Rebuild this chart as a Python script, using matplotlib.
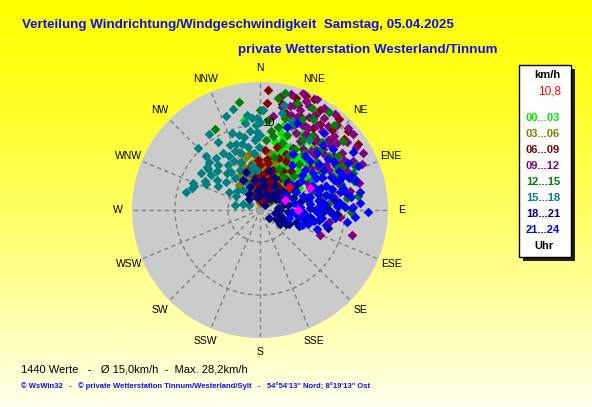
import matplotlib
matplotlib.use("Agg")
import matplotlib.pyplot as plt
import numpy as np
from matplotlib.patches import Rectangle

plt.rcParams['font.family'] = ['Liberation Sans', 'DejaVu Sans']

# Windrichtung (Grad) und Radius (Skala 0..128, Ring "10" bei 85) je Zeitfenster
dir_00 = [350, 5, 10, 12, 15, 18, 20, 22, 25, 28, 30, 32, 35, 38, 40, 42, 45, 48, 50, 52,
          55, 36, 42, 51, 60, 65, 70, 25, 15, 8, 30, 20, 40, 58, 62, 75, 80, 45, 28, 33,
          14, 24, 34, 44, 18, 28, 38, 48, 22, 32, 42, 12, 26, 36, 46, 56, 16, 30, 40, 20]
r_00 = [91, 60, 50, 70, 80, 63, 45, 55, 70, 85, 40, 60, 75, 50, 65, 30, 55, 42, 70, 35,
        50, 22, 30, 13, 45, 40, 35, 30, 35, 40, 90, 95, 82, 62, 28, 30, 22, 20, 50, 35,
        58, 62, 48, 68, 75, 38, 58, 52, 42, 78, 45, 48, 55, 65, 35, 58, 88, 50, 40, 68]

dir_03 = [340, 345, 350, 355, 0, 5, 10, 15, 20, 25, 352, 348, 342, 336, 330, 325, 358, 8,
          30, 35, 18, 2, 12, 345, 335, 320, 28, 40, 355, 10, 3, 350, 340, 15, 22, 0,
          345, 355, 5, 15, 0, 350, 338, 10, 20, 25, 358, 348]
r_03 = [62, 55, 48, 42, 38, 45, 35, 28, 40, 22, 30, 22, 35, 28, 40, 20, 15, 18,
        32, 15, 50, 25, 10, 12, 18, 33, 45, 25, 55, 58, 32, 36, 45, 42, 30, 7,
        40, 33, 20, 20, 50, 58, 50, 28, 25, 35, 28, 28]

dir_06 = [0, 5, 10, 15, 20, 25, 30, 35, 40, 45, 50, 355, 350, 345, 340, 0, 8, 18, 28, 38,
          12, 2, 22, 32, 55, 60, 348, 352, 5, 15, 25,
          3, 8, 13, 18, 23, 28, 33, 38, 43, 48, 353, 358, 10, 20, 30, 0, 6, 16,
          4, 4, 26, 30, 31, 56, 41, 61, 20, 35, 45, 15, 38, 28, 50, 10, 22,
          18, 24, 33, 12, 42, 48]
r_06 = [20, 30, 40, 25, 35, 45, 30, 20, 40, 28, 15, 25, 35, 18, 28, 45, 52, 15, 55, 50,
        12, 10, 22, 12, 35, 25, 45, 12, 60, 65, 62,
        35, 22, 30, 42, 28, 20, 38, 30, 18, 38, 40, 50, 48, 55, 45, 30, 15, 8,
        120, 107, 124, 110, 117, 118, 120, 94, 112, 105, 100, 100, 88, 95, 110, 115, 123,
        118, 102, 98, 108, 108, 118]

dir_09 = [15, 18, 20, 22, 25, 28, 30, 32, 35, 38, 40, 42, 45, 48, 50, 52, 55, 58, 60, 62,
          65, 20, 25, 30, 35, 40, 45, 50, 15, 12, 10, 8, 28, 33, 43, 53, 57, 63, 68, 71,
          75, 88, 113, 105, 80, 85, 95, 100, 70, 75, 60, 66, 38, 27, 47,
          18, 22, 26, 30, 34, 36, 44, 46, 54, 56, 64, 23, 31, 39, 49, 59, 67, 72, 78, 41,
          51, 61, 16]
r_09 = [120, 110, 125, 100, 115, 105, 95, 120, 112, 100, 90, 115, 105, 95, 85, 110, 100, 90, 80, 105,
        95, 90, 85, 80, 75, 70, 78, 65, 95, 105, 115, 95, 70, 88, 82, 72, 115, 70, 85, 82,
        103, 93, 65, 95, 75, 60, 80, 70, 60, 50, 55, 112, 122, 125, 120,
        100, 108, 95, 110, 102, 92, 98, 88, 92, 80, 88, 118, 88, 108, 102, 98, 92, 100, 92, 78,
        120, 118, 108]

dir_12 = [331, 349, 9, 19, 27, 41, 50, 82, 91, 73, 82, 5, 10, 15, 20, 25, 30, 35, 40, 45,
          50, 55, 60, 65, 70, 75, 80, 85, 15, 25, 35, 45, 55, 60, 68, 100, 95, 5, 0, 12, 35, 30,
          12, 22, 32, 42, 52, 62, 72, 78, 88, 28, 38, 48, 58, 18, 8, 65]
r_12 = [93, 110, 113, 113, 115, 113, 108, 99, 91, 98, 88, 90, 75, 95, 80, 100, 70, 90, 60, 85,
        75, 95, 65, 80, 55, 75, 50, 68, 55, 45, 40, 48, 38, 88, 100, 60, 45, 70, 100, 120, 120, 105,
        85, 92, 82, 92, 88, 95, 85, 65, 78, 62, 72, 62, 72, 70, 80, 105]

dir_15 = [355, 357, 358, 356, 359, 354, 352, 350, 348, 345, 342, 340, 338, 335, 333, 330, 328, 325,
          322, 320, 318, 315, 312, 310, 308, 305, 302, 300, 296, 292, 288, 284, 281, 289, 294, 300,
          310, 320, 335, 345, 350, 355, 13, 13, 20, 35, 60, 70, 315, 326, 340, 345, 290, 309,
          0, 358, 357, 353, 349, 344, 337, 332, 327, 323, 317, 313, 306, 300, 298, 340, 0, 2]
r_15 = [92, 85, 78, 70, 63, 57, 96, 88, 75, 68, 60, 82, 52, 72, 45, 62, 80, 55,
        40, 68, 50, 76, 58, 44, 66, 52, 70, 36, 60, 72, 71, 76, 25, 18, 12, 28,
        30, 26, 30, 38, 45, 40, 108, 100, 95, 85, 60, 70, 88, 92, 100, 105, 70, 68,
        88, 92, 72, 80, 64, 78, 64, 55, 68, 48, 62, 70, 60, 48, 62, 70, 75, 100]

dir_18 = [336, 347, 45, 330, 340, 350, 355, 0, 10, 20, 30, 40, 50, 60, 70, 80, 90, 100, 110, 120,
          85, 75, 65, 95, 103, 101, 93, 89, 90, 93, 98, 108, 115, 80, 70, 55, 45, 25, 15, 5,
          325, 315, 130, 105, 85,
          95, 105, 85, 75, 65, 55, 45, 35, 112, 118, 97, 88, 78, 60, 125, 100, 92, 82]
r_18 = [25, 13, 7, 35, 40, 30, 20, 15, 25, 18, 28, 20, 30, 22, 35, 28, 20, 15, 25, 18,
        40, 48, 55, 35, 46, 54, 62, 68, 57, 77, 50, 38, 32, 60, 65, 45, 38, 35, 40, 30,
        20, 15, 12, 70, 80,
        28, 22, 18, 25, 30, 20, 25, 15, 42, 30, 42, 50, 42, 40, 25, 60, 72, 75]

dir_21 = [66, 70, 75, 87, 91, 94, 18, 23, 40, 45, 48, 50, 52, 55, 57, 60, 62, 63, 65, 67,
          68, 70, 72, 73, 75, 77, 78, 80, 82, 83, 85, 86, 88, 90, 92, 95, 97, 100, 102, 98,
          105, 110, 60, 50, 35, 30, 40, 58, 80,
          62, 64, 66, 68, 69, 71, 74, 76, 79, 81, 84, 87, 89, 91, 93, 96, 99, 103, 106, 58,
          55, 53, 50, 46, 44, 70, 77, 86, 94, 108]
r_21 = [107, 95, 86, 77, 108, 32, 87, 95, 70, 80, 60, 95, 75, 50, 88, 65, 100, 40, 78, 55,
        90, 70, 45, 100, 60, 82, 35, 72, 92, 50, 65, 40, 85, 55, 70, 45, 62, 40, 55, 88,
        30, 45, 30, 40, 55, 65, 100, 110, 102,
        70, 88, 58, 80, 98, 62, 75, 52, 88, 60, 78, 62, 92, 42, 58, 75, 50, 68, 50, 75,
        65, 85, 55, 70, 90, 84, 68, 100, 95, 60]

dir_mag = [68, 90, 66]
r_mag = [27, 38, 55]
dir_now = [52]
r_now = [37]

groups = [
    ("00...03", "#00e800", dir_00, r_00),
    ("03...06", "#808000", dir_03, r_03),
    ("06...09", "#800000", dir_06, r_06),
    ("09...12", "#800080", dir_09, r_09),
    ("12...15", "#008000", dir_12, r_12),
    ("15...18", "#008080", dir_15, r_15),
    ("18...21", "#000080", dir_18, r_18),
    ("21...24", "#0000ff", dir_21, r_21),
]

compass = ["N", "NNE", "NE", "ENE", "E", "ESE", "SE", "SSE",
           "S", "SSW", "SW", "WSW", "W", "WNW", "NW", "NNW"]

W, H = 592, 407
fig = plt.figure(figsize=(W / 100, H / 100), dpi=100)

# Hintergrund: Verlauf gelb -> hellgelb
bg = fig.add_axes([0, 0, 1, 1])
grad = np.linspace(0, 1, 256).reshape(-1, 1)
cols = np.zeros((256, 1, 3))
cols[:, 0, 0] = 1.0
cols[:, 0, 1] = 1.0
cols[:, 0, 2] = grad[:, 0] ** 1.3 * 0.93
bg.imshow(cols, aspect='auto', extent=[0, 1, 0, 1], origin='upper')
bg.set_xlim(0, 1)
bg.set_ylim(0, 1)
bg.axis('off')

cx, cy, R = 260, 210, 128
ax = fig.add_axes([(cx - R) / W, (H - cy - R) / H, 2 * R / W, 2 * R / H], projection='polar')
ax.set_theta_zero_location('N')
ax.set_theta_direction(-1)
ax.set_ylim(0, 128)
ax.set_facecolor('#cbcbcb')
ax.grid(False)
ax.set_xticks([])
ax.set_yticks([])
ax.spines['polar'].set_visible(False)

th = np.linspace(0, 2 * np.pi, 400)
for ring in [32, 85]:
    ax.plot(th, np.full_like(th, ring), color='#808080', lw=1, ls=(0, (3, 2.5)), zorder=1)
for i in range(16):
    a = np.radians(i * 22.5)
    ax.plot([a, a], [0, 128], color='#808080', lw=1, ls=(0, (3, 2.5)), zorder=1)
ax.scatter([0], [0], marker='s', s=22, color='#a0a0a0', zorder=2)

ms = 24
for name, col, d, r in groups:
    ax.scatter(np.radians(d), r, marker='D', s=ms, color=col, linewidths=0, zorder=3)
ax.scatter(np.radians(dir_mag), r_mag, marker='D', s=ms, color='#ff00ff', linewidths=0, zorder=4)
ax.scatter(np.radians(dir_now), r_now, marker='D', s=ms, color='#ff0000', linewidths=0, zorder=4)

ax.text(np.radians(5.3), 87, "10", ha='center', va='center', fontsize=8, zorder=5)

for i, lab in enumerate(compass):
    ax.text(np.radians(i * 22.5), 142, lab, ha='center', va='center', fontsize=7.5,
            color='black', clip_on=False)

# Titel
def px(x, y):
    return x / W, 1 - y / H

fig.text(*px(22, 25), "Verteilung Windrichtung/Windgeschwindigkeit  Samstag, 05.04.2025",
         color='#1010f0', fontsize=9.6, fontweight='bold', va='center', ha='left')
fig.text(*px(238, 50), "private Wetterstation Westerland/Tinnum",
         color='#1010f0', fontsize=9.6, fontweight='bold', va='center', ha='left')

# Legende mit Schatten
bx0, bx1, by0, by1 = 519, 571, 65, 257
fig.patches.append(Rectangle(px(bx0 + 4, by1 + 4), (bx1 - bx0) / W, (by1 - by0) / H,
                             transform=fig.transFigure, facecolor='#202020', edgecolor='none'))
fig.patches.append(Rectangle(px(bx0, by1), (bx1 - bx0) / W, (by1 - by0) / H,
                             transform=fig.transFigure, facecolor='white', edgecolor='black', lw=1))
fig.text(*px(547, 75), "km/h", fontsize=8, fontweight='bold', ha='center', va='center')
fig.text(*px(550, 92), "10,8", fontsize=8.5, color='red', ha='center', va='center')
for k, (name, col, d, r) in enumerate(groups):
    fig.text(*px(543, 118 + k * 16), name, fontsize=8, fontweight='bold', color=col,
             ha='center', va='center')
fig.text(*px(544, 246), "Uhr", fontsize=8, fontweight='bold', ha='center', va='center')

fig.text(*px(21, 369), "1440 Werte   -   \u00d8 15,0km/h  -  Max. 28,2km/h",
         fontsize=8, ha='left', va='center')
fig.text(*px(21, 386), "\u00a9 WsWin32   -   \u00a9 private Wetterstation Tinnum/Westerland/Sylt   -   "
         "54\u00b054'13\" Nord; 8\u00b019'13\" Ost",
         fontsize=5.5, color='#1010f0', fontweight='bold', ha='left', va='center')

fig.savefig("out.png", dpi=100)
